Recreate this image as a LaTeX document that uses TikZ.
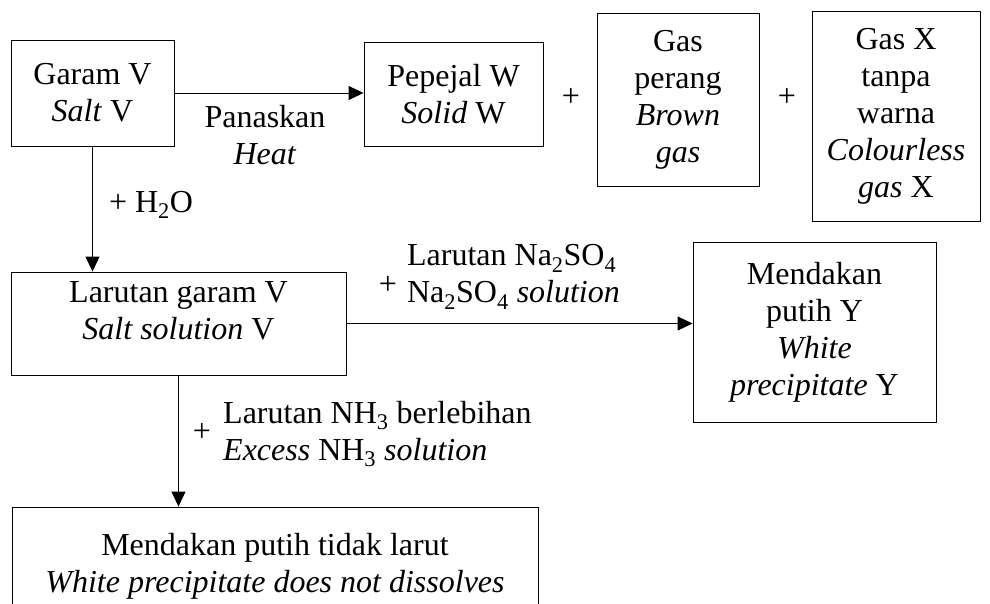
\documentclass[tikz,border=0pt]{standalone}
\usepackage{fontspec}
\setmainfont{Liberation Serif}
\usetikzlibrary{arrows.meta}

\begin{document}
\begin{tikzpicture}[
    x=1pt, y=-1pt,
    box/.style={draw, line width=0.9pt, align=center, inner sep=2pt, font=\fontsize{32}{37}\selectfont},
    lbl/.style={inner sep=0pt, align=left, font=\fontsize{32}{37}\selectfont},
    arr/.style={-{Triangle[length=15pt,width=14pt]}, line width=0.9pt}
]
\useasboundingbox (0,0) rectangle (990,604);

\node[box, minimum width=163pt, minimum height=106pt] (garam) at (92.5,93) {Garam V\\\textit{Salt} V};
\node[box, minimum width=179pt, minimum height=104pt] (pepejal) at (453.5,94) {Pepejal W\\\textit{Solid} W};
\node[box, minimum width=162pt, minimum height=173pt] (perang) at (678,99.5) {Gas\\perang\\\textit{Brown}\\\textit{gas}};
\node[box, minimum width=168pt, minimum height=210pt] (gasX) at (896,116) {Gas X\\tanpa\\warna\\\textit{Colourless}\\\textit{gas} X};
\node[lbl] (plusW) at (571,97) {+};
\node[lbl] (plusX) at (787,97) {+};
\node[lbl, align=center] (heat) at (265,135) {Panaskan\\\textit{Heat}};

\node[box, minimum width=335pt, minimum height=103pt, inner ysep=0pt] (larutan) at (178.5,323.5) {Larutan garam V\\\textit{Salt solution} V\\[-12pt]\mbox{}};
\node[lbl] (water) at (151,205) {+ H\textsubscript{2}O};

\node[box, minimum width=243pt, minimum height=180pt] (putihY) at (814.5,332) {Mendakan\\putih Y\\\textit{White}\\\textit{precipitate} Y};
\node[lbl] (plusNa) at (388,285) {+};
\node[lbl] (sulfat) at (513.5,277) {Larutan Na\textsubscript{2}SO\textsubscript{4}\\Na\textsubscript{2}SO\textsubscript{4} \textit{solution}};

\node[box, minimum width=526pt, minimum height=118pt] (larut) at (275,566) {Mendakan putih tidak larut\\\textit{White precipitate does not dissolves}};
\node[lbl] (plusNH) at (202,432) {+};
\node[lbl, anchor=west] (ammonia) at (223,434) {Larutan NH\textsubscript{3} berlebihan\\\textit{Excess} NH\textsubscript{3} \textit{solution}};

\draw[arr] (garam.east) -- (garam.east -| pepejal.west);
\draw[arr] (garam.south) -- (garam.south |- larutan.north);
\draw[arr] (larutan.east) -- (larutan.east -| putihY.west);
\draw[arr] (larutan.south) -- (larutan.south |- larut.north);
\end{tikzpicture}
\end{document}
